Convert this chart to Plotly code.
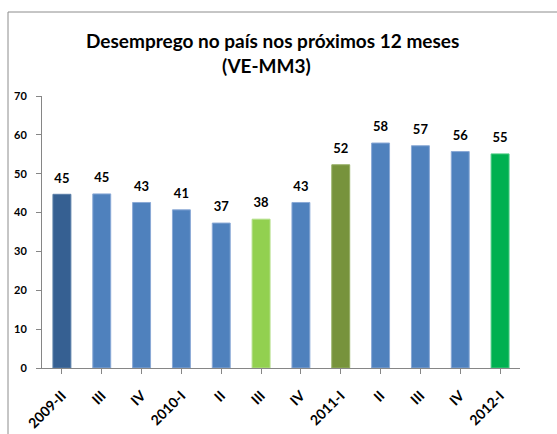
import plotly.graph_objects as go

categories = ["2009-II", "III", "IV", "2010-I", "II", "III", "IV", "2011-I", "II", "III", "IV", "2012-I"]
values = [44.7, 44.8, 42.6, 40.7, 37.3, 38.3, 42.6, 52.3, 57.9, 57.2, 55.7, 55.1]
bar_colors = ["#366092", "#4F81BD", "#4F81BD", "#4F81BD", "#4F81BD", "#92D050",
              "#4F81BD", "#77933C", "#4F81BD", "#4F81BD", "#4F81BD", "#00B050"]
edge_colors = ["#5B7FA8", "#8AA9D6", "#8AA9D6", "#8AA9D6", "#8AA9D6", "#B3DE88",
               "#8AA9D6", "#95AE63", "#8AA9D6", "#8AA9D6", "#8AA9D6", "#4CCB83"]
title_lines = ["Desemprego no país nos próximos 12 meses", "(VE-MM3)"]

FONT = "Lato"
W, H = 557, 434
L, R, T, B = 42, 37, 96, 66
pw, ph = W - L - R, H - T - B

def px_x(p):
    return (p - L) / pw

def px_y(p):
    return (H - B - p) / ph

xs = list(range(len(categories)))

fig = go.Figure()
fig.add_trace(go.Bar(
    x=xs,
    y=values,
    marker=dict(color=bar_colors, line=dict(color=edge_colors, width=1)),
    width=0.45,
    hoverinfo="skip",
))
fig.add_trace(go.Scatter(
    x=xs,
    y=values,
    mode="markers+text",
    marker=dict(size=12, opacity=0),
    text=values,
    texttemplate="%{y:.0f}",
    textposition="top center",
    cliponaxis=False,
    textfont=dict(family=FONT, size=13, color="#000000", weight="bold"),
    hoverinfo="skip",
))

fig.update_layout(
    width=W, height=H,
    margin=dict(l=L, r=R, t=T, b=B, pad=0),
    paper_bgcolor="white", plot_bgcolor="white",
    showlegend=False,
    xaxis=dict(
        tickmode="array",
        tickvals=xs,
        ticktext=categories,
        range=[-0.5, len(categories) - 0.5],
        tickangle=-45,
        ticks="outside", tickson="boundaries", ticklen=5,
        tickcolor="#868686",
        ticklabelstandoff=8,
        showline=True, linecolor="#868686", linewidth=1,
        showgrid=False, zeroline=False, automargin=False,
        tickfont=dict(family=FONT, size=14, color="#000000", weight="bold"),
    ),
    yaxis=dict(
        range=[0, 70], dtick=10,
        ticks="outside", ticklen=5, tickcolor="#868686",
        ticklabelstandoff=7,
        showline=True, linecolor="#868686", linewidth=1,
        showgrid=False, zeroline=False, automargin=False,
        tickfont=dict(family=FONT, size=11, color="#000000", weight="bold"),
    ),
    shapes=[dict(
        type="rect", xref="paper", yref="paper",
        x0=px_x(8), x1=px_x(W + 5), y0=px_y(H + 5), y1=px_y(12),
        line=dict(color="#8C8C8C", width=1), fillcolor="rgba(0,0,0,0)", layer="below",
    )],
    annotations=[
        dict(text=title_lines[0], xref="paper", yref="paper",
             x=px_x(272), y=px_y(40), xanchor="center", yanchor="middle",
             showarrow=False, font=dict(family=FONT, size=19, color="#000000", weight="bold")),
        dict(text=title_lines[1], xref="paper", yref="paper",
             x=px_x(266), y=px_y(66), xanchor="center", yanchor="middle",
             showarrow=False, font=dict(family=FONT, size=19, color="#000000", weight="bold")),
    ],
)

fig.write_html(
    "out.html",
    config={"displayModeBar": False},
    post_script="document.body.style.margin='0';document.body.style.overflow='hidden';",
)
